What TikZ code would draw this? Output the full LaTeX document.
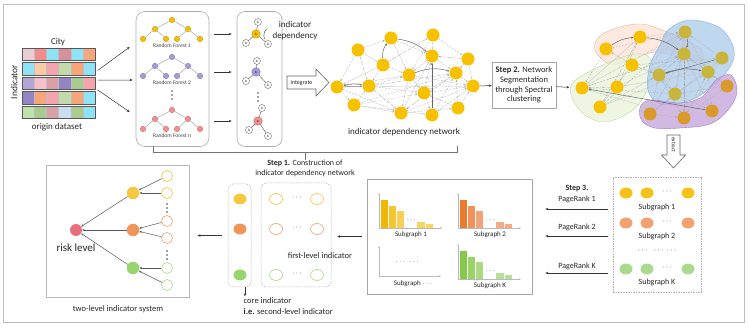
\documentclass[tikz,border=0pt]{standalone}
\usepackage{fontspec}
\setmainfont{Carlito}
\usetikzlibrary{arrows.meta,shapes.geometric,calc}
\definecolor{c1}{HTML}{E9CDD2}
\definecolor{c2}{HTML}{F08C8C}
\definecolor{c3}{HTML}{8FE3F5}
\definecolor{c4}{HTML}{D4919E}
\definecolor{c5}{HTML}{F7A57A}
\definecolor{c6}{HTML}{F9CBA5}
\definecolor{c7}{HTML}{F5A3AD}
\definecolor{c8}{HTML}{C3D9AC}
\definecolor{c9}{HTML}{B3A6D6}
\definecolor{c10}{HTML}{F8BFCB}
\definecolor{c11}{HTML}{D9A0A6}
\definecolor{c12}{HTML}{9384C4}
\definecolor{c13}{HTML}{A9CB8F}
\definecolor{c14}{HTML}{BDE3AD}
\definecolor{c15}{HTML}{CCDDF2}
\definecolor{rfgold}{HTML}{F5C000}
\definecolor{rfgoldd}{HTML}{B89000}
\definecolor{rfpurple}{HTML}{A99AD8}
\definecolor{rfpurpled}{HTML}{7A6AB0}
\definecolor{rfpink}{HTML}{F09090}
\definecolor{rfpinkd}{HTML}{C06060}
\definecolor{netgold}{HTML}{F7C100}
\definecolor{netblue}{HTML}{C9B43C}
\definecolor{netpurple}{HTML}{D89A2A}
\definecolor{blobOf}{HTML}{FCE4D8}
\definecolor{blobOd}{HTML}{E8B49A}
\definecolor{blobGf}{HTML}{EAF4DC}
\definecolor{blobGd}{HTML}{BCDC9C}
\definecolor{blobBf}{HTML}{A9C9EA}
\definecolor{blobBd}{HTML}{86AEDA}
\definecolor{blobPf}{HTML}{C6A8DC}
\definecolor{blobPd}{HTML}{A482C4}
\definecolor{sggold}{HTML}{F6C21A}
\definecolor{sgorange}{HTML}{F2A272}
\definecolor{sggreen}{HTML}{A9DA8E}
\definecolor{G1}{HTML}{F2B705}
\definecolor{G2}{HTML}{F5C630}
\definecolor{G3}{HTML}{F7D055}
\definecolor{G4}{HTML}{F8D462}
\definecolor{O1}{HTML}{EB7A2E}
\definecolor{O2}{HTML}{F0905A}
\definecolor{O3}{HTML}{F2A377}
\definecolor{O4}{HTML}{F3AC84}
\definecolor{V1}{HTML}{84C94A}
\definecolor{V2}{HTML}{9BD366}
\definecolor{V3}{HTML}{ABD985}
\definecolor{V4}{HTML}{B5E09A}
\definecolor{mgold}{HTML}{F5C842}
\definecolor{morange}{HTML}{F0955A}
\definecolor{mgreen}{HTML}{9AD46E}
\definecolor{lgold}{HTML}{F2C440}
\definecolor{lorange}{HTML}{F0A070}
\definecolor{lgreen}{HTML}{A8D890}
\definecolor{riskpink}{HTML}{E8707E}
\definecolor{txt}{HTML}{262626}
\tikzset{
  f9/.style={font=\fontsize{9}{11}\selectfont, text=txt, inner sep=0pt},
  f85/.style={font=\fontsize{8.5}{9.8}\selectfont, text=txt, inner sep=0pt},
  f8/.style={font=\fontsize{8}{9.4}\selectfont, text=txt, inner sep=0pt},
  f7/.style={font=\fontsize{7}{8}\selectfont, text=txt, inner sep=0pt},
  conn/.style={draw=black!80, line width=0.5pt, -{Stealth[length=3pt,width=2.4pt]}},
  rfnode/.style={circle, minimum size=5.5pt, inner sep=0pt, line width=0.3pt},
  rfedge/.style={draw=gray!75, line width=0.45pt},
  rflbl/.style={font=\fontsize{5.5}{6}\selectfont, text=black!75, inner sep=0pt},
  depc/.style={circle, minimum size=8.5pt, inner sep=0pt, line width=0.4pt, font=\fontsize{3.5}{4}\selectfont},
  deps/.style={circle, minimum size=7pt, inner sep=0pt, line width=0.4pt, draw=black!60, fill=white, font=\fontsize{3.5}{4}\selectfont},
  depedge/.style={draw=black!60, line width=0.45pt},
  panel/.style={draw=gray!65, line width=0.6pt, inner sep=0pt},
  hollow/.style={draw=black!60, fill=white, line width=0.6pt},
  netspot/.style={circle, minimum size=13pt, inner sep=0pt},
  ea/.style={draw=gray!60, dash pattern=on 2pt off 1.2pt, line width=0.35pt, -{Stealth[length=2.2pt,width=1.8pt]}},
  eb/.style={draw=gray!70, dash pattern=on 0.6pt off 0.9pt, line width=0.4pt, -{Stealth[length=2.2pt,width=1.8pt]}},
  ec/.style={draw=gray!45, line width=0.35pt, -{Stealth[length=2.2pt,width=1.8pt]}},
  ed/.style={draw=gray!70, dash pattern=on 3pt off 1pt on 0.6pt off 1pt, line width=0.35pt, -{Stealth[length=2.2pt,width=1.8pt]}},
  ee/.style={draw=black!60, line width=0.5pt, -{Stealth[length=2.4pt,width=2pt]}},
  blobO/.style={fill=blobOf, draw=blobOd, line width=0.4pt, fill opacity=0.8},
  blobG/.style={fill=blobGf, draw=blobGd, line width=0.4pt, fill opacity=0.8},
  blobB/.style={fill=blobBf, draw=blobBd, line width=0.4pt, fill opacity=0.75},
  blobP/.style={fill=blobPf, draw=blobPd, line width=0.4pt, fill opacity=0.8},
  sgnode/.style={ellipse, minimum width=13pt, minimum height=11pt, inner sep=0pt},
  axisline/.style={draw=gray!55, line width=0.4pt, -{Stealth[length=2pt,width=1.6pt]}},
  dbox/.style={draw=gray!60, dash pattern=on 1.5pt off 1pt, line width=0.5pt, inner sep=0pt},
  sysedge/.style={draw=black!65, line width=0.5pt, -{Stealth[length=2.6pt,width=2.2pt]}},
  leaf/.style={circle, minimum size=11pt, inner sep=0pt, fill=white, line width=0.6pt},
  mid/.style={circle, minimum size=12.5pt, inner sep=0pt},
}
\begin{document}
\begin{tikzpicture}[x=1pt,y=-1pt]
\useasboundingbox (0,0) rectangle (749,328);
% outer frame
\draw[gray!50, line width=0.9pt] (3.5,4) rectangle (744,322.5);

% ---------- origin dataset ----------
\foreach \row [count=\r from 0] in {{c1,c2,c3,c4,c3,c5},{c3,c6,c7,c8,c5,c3},{c9,c10,c11,c12,c13,c7},{c12,c5,c7,c8,c5,c3},{c14,c13,c11,c15,c13,c3}} {
  \foreach \col [count=\k from 0] in \row {
    \filldraw[fill=\col, draw=black!25, line width=0.2pt] ({22+\k*12.1667},{48+\r*14.5}) rectangle ++(12.1667,12.5);
  }
  \draw[black!65, line width=0.5pt] (22,{48+\r*14.5}) rectangle ++(73,12.5);
}
\node[minimum width=73pt, minimum height=70.5pt, inner sep=0pt] (mat) at (58.5,83.25) {};
\node[f9] (city) at (58,42.5) {City};
\node[f9, rotate=90, font=\fontsize{9.5}{11}\selectfont] (indlbl) at (14,82) {Indicator};
\node[f9] (orig) at (57,127) {origin dataset};

% ---------- random forests ----------
\node[panel, rounded corners=9pt, minimum width=73pt, minimum height=135pt] (rf) at (172.5,79) {};
\foreach \t/\ry/\cf/\cd/\lab in {1/20/rfgold/rfgoldd/1,2/57/rfpurple/rfpurpled/2,3/110/rfpink/rfpinkd/n}{
  \begin{scope}[shift={(172,\ry)}]
    \node[rfnode,fill=\cf,draw=\cd] (t\t-r) at (0,0) {};
    \node[rfnode,fill=\cf,draw=\cd] (t\t-a) at (-17,9) {};
    \node[rfnode,fill=\cf,draw=\cd] (t\t-b) at (16,9) {};
    \foreach \q/\qx/\p in {1/-29/a,2/-6/a,3/5/b,4/28/b}{
      \node[rfnode,fill=\cf,draw=\cd] (t\t-l\q) at (\qx,19) {};
      \draw[rfedge] (t\t-\p) -- (t\t-l\q);
    }
    \draw[rfedge] (t\t-r) -- (t\t-a);
    \draw[rfedge] (t\t-r) -- (t\t-b);
    \node[rflbl] (t\t-lab) at (0,25.5) {Random Forest \lab};
  \end{scope}
}
\foreach \yy in {91,95,99} \fill[black!70] (172,\yy) circle (0.8pt);

\draw[conn, shorten <=3pt] ([yshift=11pt]mat.east) -- ([xshift=-6pt,yshift=32pt]rf.west);
\draw[conn, shorten <=3pt] ([yshift=3pt]mat.east) -- ([xshift=-3pt,yshift=-1pt]rf.west);
\draw[conn, shorten <=3pt] ([yshift=-5pt]mat.east) -- ([xshift=-6pt,yshift=-33pt]rf.west);

% ---------- dependency stars ----------
\node[panel, rounded corners=8pt, minimum width=45pt, minimum height=135pt] (dep) at (259.5,79) {};
\foreach \s/\cx/\cy/\cf/\cd/\tx/\ty/\lx/\ly/\rx/\rry in {1/256/34/netgold/rfgoldd/2/-12/-10/9/12/10, 2/256/72/rfpurple/rfpurpled/1/-11/-10/9/12/13, 3/258/121/rfpink/rfpinkd/4/-13/-9/9/10/15}{
  \node[depc, fill=\cf, draw=\cd] (s\s-c) at (\cx,\cy) {A};
  \node[deps] (s\s-t) at ({\cx+\tx},{\cy+\ty}) {A};
  \node[deps] (s\s-l) at ({\cx+\lx},{\cy+\ly}) {A};
  \node[deps] (s\s-r) at ({\cx+\rx},{\cy+\rry}) {A};
  \draw[depedge] (s\s-c) -- (s\s-t);
  \draw[depedge] (s\s-c) -- (s\s-l);
  \draw[depedge] (s\s-c) -- (s\s-r);
  \draw[conn, shorten <=5pt, shorten >=5pt] (rf.east |- s\s-c) -- (dep.west |- s\s-c);
}
\foreach \yy in {93,97,101} \fill[black!70] (258,\yy) circle (0.8pt);
\node[f9, align=center] (deplbl) at (295,30.5) {indicator\\dependency};
\draw[black!70, line width=0.5pt] (266.5,29) to[bend right=30] (264.5,39);

% ---------- integrate arrow ----------
\draw[hollow] (287,76) -- (316,76) -- (316,69) -- (329,82.5) -- (316,96) -- (316,89) -- (287,89) -- cycle;
\node[font=\fontsize{6}{7}\selectfont, text=txt, inner sep=0pt] (intg) at (301.5,82.5) {integrate};

% ---------- indicator dependency network ----------
\foreach \i/\x/\y in {1/391/38,2/433/35,3/358/50,4/432/56,5/468/59,6/383/65,7/409/75,8/456/73,9/337/87,10/369/86,11/473/86,12/424/93,13/354/105,14/401/113,15/432/115,16/458/108}
  \node[netspot] (n\i) at (\x,\y) {};
\foreach \a/\b/\s in {9/10/ee,3/9/ea,9/13/eb,6/9/ec,9/7/ea,10/7/eb,10/12/ea,10/8/ed,1/4/ea,3/1/eb,3/6/ec,6/7/ea,2/4/ec,4/7/eb,4/8/ea,5/4/ed,5/8/eb,7/11/ea,7/14/ec,7/12/eb,8/11/ea,16/8/eb,8/14/ed,12/11/ea,13/12/eb,13/10/ea,13/15/ec,14/11/eb,14/4/ec,15/8/ea,15/4/ee,16/12/ea,16/11/eb,3/10/ed,2/7/eb,13/8/ea,9/11/ec,12/15/eb,1/7/ea,5/11/ec,14/16/ea,6/2/ed,9/14/ea,13/14/eb,10/14/ed,11/15/ea,2/5/ea,8/12/ec,6/10/eb,12/4/ea}
  \draw[\s] (n\a) -- (n\b);
\draw[ee] (n1) to[bend left=15] (n4);
\draw[ee] (n7) to[bend left=18] (n8);
\draw[ee] (n6) to[bend left=20] (n1);
\draw[ee] (n10) to[bend right=12] (n9);
\foreach \i in {1,...,16} \fill[netgold] (n\i) circle (6.5pt);
\node[f9] (netlbl) at (404,132) {indicator dependency network};

% ---------- Step 1 bracket ----------
\draw[black!55, line width=0.5pt] (153,146.5) -- (153,152) -- (457,152) -- (457,146.5);
\node[f8, align=center] (step1) at (305,168.5) {\textbf{Step 1.} Construction of\\indicator dependency network};
\draw[black!55, line width=0.5pt] (305,152) -- (step1.north);

% ---------- Step 2 ----------
\node[panel, minimum width=64pt, minimum height=46pt, f85, align=center, draw=gray!70] (s2) at (524,85) {\textbf{Step 2.} Network\\Segmentation\\through Spectral\\clustering};
\draw[conn] (n11) -- (s2);

% ---------- clustered network ----------
\filldraw[blobO] plot[smooth cycle, tension=0.6] coordinates {(595,50) (600,36) (620,27) (642,24) (662,30) (685,40) (702,50) (700,63) (680,58) (655,52) (632,60) (610,64)};
\filldraw[blobG] plot[smooth cycle, tension=0.6] coordinates {(571,85) (585,74) (610,62) (635,54) (650,58) (650,75) (645,95) (630,112) (605,122) (585,115) (573,100)};
\filldraw[blobB] plot[smooth cycle, tension=0.6] coordinates {(668,30) (690,20) (720,28) (734,50) (728,70) (705,92) (685,102) (660,104) (648,90) (650,65) (660,45)};
\filldraw[blobP] plot[smooth cycle, tension=0.6] coordinates {(640,108) (650,100) (680,103) (702,97) (716,80) (731,75) (737,92) (728,110) (710,124) (680,128) (655,128) (642,121)};
\foreach \i/\x/\y in {1/606/49,2/640/37,3/632/65,4/582/88,5/617/87,6/600/107,7/685/32,8/684/54,9/722/58,10/659/75,11/708/72,12/675/94,13/650/114,14/684/118,15/712/111,16/727/86}
  \node[netspot] (m\i) at (\x,\y) {};
\foreach \a/\b/\s in {9/10/ee,3/9/ea,9/13/eb,6/9/ec,9/7/ea,10/7/eb,10/12/ea,10/8/ed,1/4/ea,3/1/eb,3/6/ec,6/7/ea,2/4/ec,4/7/eb,4/8/ea,5/4/ed,5/8/eb,7/11/ea,7/14/ec,7/12/eb,8/11/ea,16/8/eb,8/14/ed,12/11/ea,13/12/eb,13/10/ea,13/15/ec,14/11/eb,14/4/ec,15/8/ea,15/4/ee,16/12/ea,16/11/eb,3/10/ed,2/7/eb,13/8/ea,9/11/ec,12/15/eb,1/7/ea,5/11/ec,14/16/ea,6/2/ed,9/14/ea,13/14/eb,10/14/ed,11/15/ea,2/5/ea,8/12/ec,6/10/eb,12/4/ea}
  \draw[\s] (m\a) -- (m\b);
\draw[ee] (m1) to[bend left=15] (m2);
\draw[ee] (m7) to[bend left=20] (m8);
\draw[ee] (m2) to[bend left=15] (m8);
\draw[ee] (m10) to[bend left=15] (m11);
\foreach \i/\c in {1/netgold,2/netgold,3/netgold,4/netgold,5/netgold,6/netgold,7/netblue,8/netblue,9/netblue,10/netblue,11/netblue,12/netblue,13/netpurple,14/netpurple,15/netpurple,16/netpurple}
  \fill[\c] (m\i) circle (6.5pt);
\draw[conn, shorten >=6pt] (s2) -- (m4);

% ---------- extract arrow ----------
\draw[hollow] (667,135) -- (680,135) -- (680,155) -- (685.5,155) -- (673.5,168) -- (661.5,155) -- (667,155) -- cycle;
\node[font=\fontsize{5.5}{6}\selectfont, text=txt, inner sep=0pt, rotate=-90] (extr) at (673.5,145) {extract};

% ---------- subgraphs ----------
\node[dbox, minimum width=88pt, minimum height=115pt] (sg) at (657,234.5) {};
\foreach \r/\y/\c/\lab/\ly in {1/193/sggold/1/207,2/223/sgorange/2/236,3/269/sggreen/K/282}{
  \node[sgnode, fill=\c] (g\r-a) at (626,\y) {};
  \node[sgnode, fill=\c] (g\r-b) at (647,\y) {};
  \node[f8] (g\r-d) at (667,{\y-1}) {$\cdots$};
  \node[sgnode, fill=\c] (g\r-c) at (688,\y) {};
  \node[f8] (g\r-l) at (657,\ly) {Subgraph \lab};
}
\node[f8] (gdots) at (657,251) {$\cdots\;\;\cdots\,\cdots$};

% ---------- Step 3 / PageRank ----------
\node[f8] (step3) at (577,189) {\textbf{Step 3.}};
\node[f8] (pr1l) at (577,199.5) {PageRank 1};
\node[f8] (pr2l) at (577,227.5) {PageRank 2};
\node[f8] (pr3l) at (577,266.5) {PageRank K};
\node[panel, minimum width=165pt, minimum height=115pt, draw=gray!70] (bars) at (449.5,236.5) {};
\coordinate (pr1) at (0,209);
\coordinate (pr2) at (0,236);
\coordinate (pr3) at (0,273);
\foreach \k in {1,2,3}
  \draw[conn, shorten <=5pt, shorten >=13pt] (sg.west |- pr\k) -- (bars.east |- pr\k);

% ---------- bar charts ----------
\foreach \k/\ox/\oy/\ba/\bb/\bc/\bd/\lab in {1/379/228/G1/G2/G3/G4/1,2/458/228/O1/O2/O3/O4/2,4/458/279/V1/V2/V3/V4/K}{
  \coordinate (ch\k) at (\ox,\oy);
  \draw[axisline] (ch\k) -- ++(0,-35);
  \draw[axisline] (ch\k) -- ++(63,0);
  \fill[\ba] ($(ch\k)+(2,0)$) rectangle ++(7,-28);
  \fill[\bb] ($(ch\k)+(10,0)$) rectangle ++(7,-22);
  \fill[\bc] ($(ch\k)+(18,0)$) rectangle ++(7,-17);
  \fill[\bd] ($(ch\k)+(38,0)$) rectangle ++(8,-6);
  \fill[\bd] ($(ch\k)+(47,0)$) rectangle ++(7,-4);
  \node[f7] at ($(ch\k)+(32,-8)$) {$\cdots$};
  \node[f7] (cl\k) at ($(ch\k)+(32,6.5)$) {Subgraph \lab};
}
\coordinate (ch3) at (379,276);
\draw[axisline] (ch3) -- ++(0,-30);
\draw[axisline] (ch3) -- ++(62,0);
\node[f7] (ch3d) at (407,262) {$\cdots\;\cdots$};
\node[f7] (cl3) at (413,284) {Subgraph $\cdots$};

% ---------- first-level / core ----------
\node[dbox, rounded corners=6pt, minimum width=70pt, minimum height=104pt] (first) at (296,235) {};
\node[dbox, rounded corners=5pt, minimum width=23pt, minimum height=103pt] (core) at (239.5,235.5) {};
\draw[conn, shorten <=5pt, shorten >=6pt] (bars.west) -- (first.east |- bars.west);
\foreach \r/\y/\cf/\cl in {1/199/mgold/lgold,2/229/morange/lorange,3/275/mgreen/lgreen}{
  \node[sgnode, fill=\cf] (k\r) at (240,\y) {};
  \node[sgnode, draw=\cl, line width=0.6pt, fill=white] (f\r-a) at (276,\y) {};
  \node[f8] (f\r-d) at (297,{\y-1.5}) {$\cdots$};
  \node[sgnode, draw=\cl, line width=0.6pt, fill=white] (f\r-b) at (317,\y) {};
}
\node[f85] (firstlbl) at (320,256) {first-level indicator};
\node[f85, anchor=west] (corelbl) at (243.5,301) {core indicator};
\node[f85, anchor=west] (corelbl2) at (243.5,312) {\textbf{i.e.} second-level indicator};
\draw[conn, line width=0.4pt, shorten >=1.5pt] ([xshift=5.5pt]core.south) -- ([xshift=5.5pt]core.south |- corelbl.north);

% ---------- two-level indicator system ----------
\node[panel, draw=gray!55, line width=0.9pt, minimum width=143pt, minimum height=132pt] (sys) at (117.5,231) {};
\draw[conn, shorten <=6pt, shorten >=8pt] (core.west) -- (sys.east |- core.west);
\node[circle, fill=riskpink, minimum size=12pt, inner sep=0pt] (risk) at (76,230) {};
\node[font=\fontsize{11}{13}\selectfont, text=txt, inner sep=0pt] (risklbl) at (76,248) {risk level};
\node[mid, fill=mgold] (mA) at (133,193) {};
\node[mid, fill=morange] (mB) at (133,230) {};
\node[mid, fill=mgreen] (mC) at (133,268) {};
\foreach \q/\y/\c/\m in {1/176/lgold/mA,2/193/lgold/mA,3/221/lorange/mB,4/238/lorange/mB,5/268/lgreen/mC,6/285/lgreen/mC}{
  \node[leaf, draw=\c] (lf\q) at (167,\y) {};
  \draw[sysedge] (lf\q) -- (\m);
}
\foreach \m in {mA,mB,mC} \draw[sysedge] (\m) -- (risk);
\foreach \yy in {204,208,212,251,255,259} \fill[black!75] (167,\yy) circle (0.8pt);
\node[f85] (syslbl) at (118,309) {two-level indicator system};
\end{tikzpicture}
\end{document}
